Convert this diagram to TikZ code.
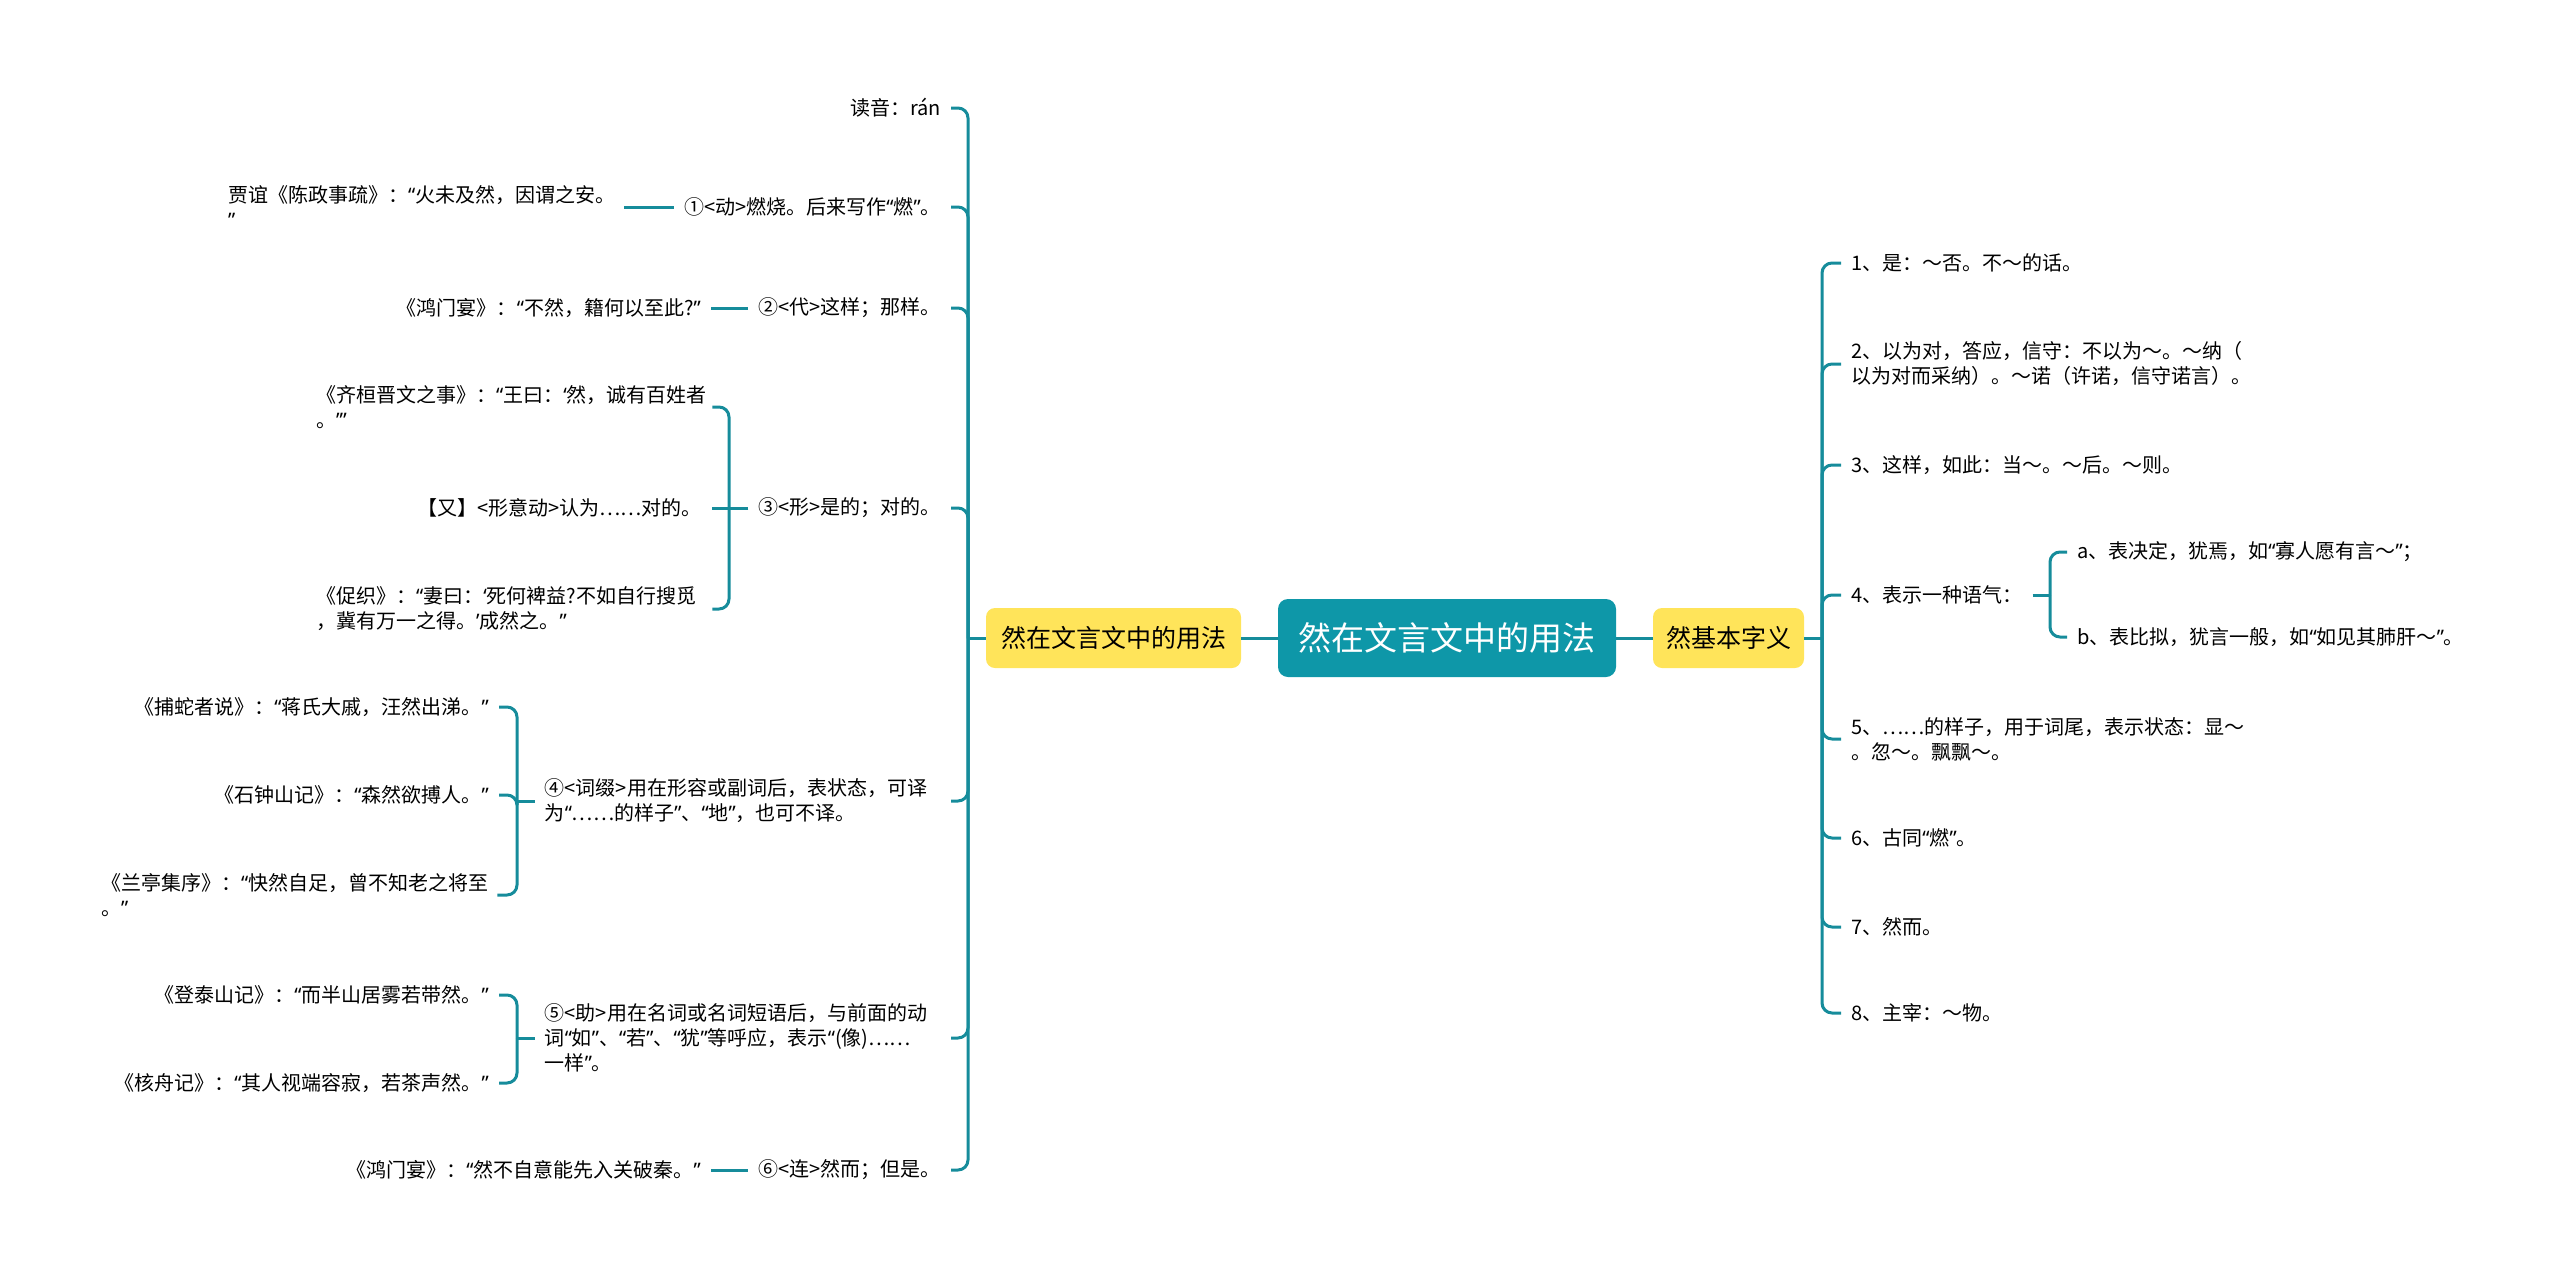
\documentclass[tikz,border=0pt]{standalone}
\usepackage{fontspec}
\newfontfamily\cjk{Noto Sans CJK SC}
\newfontfamily\qfont{Noto Sans}
\newcommand\oq{{\qfont “}}
\newcommand\cq{{\qfont ”}}
\newcommand\osq{{\qfont ‘}}
\newcommand\csq{{\qfont ’}}
\definecolor{tealbox}{RGB}{14,151,168}
\definecolor{tealline}{RGB}{22,140,155}
\definecolor{yel}{RGB}{255,228,90}
\begin{document}
\begin{tikzpicture}[x=1pt,y=-1pt,
  conn/.style={draw=tealline, line width=3pt},
  rc/.style={rounded corners=10pt},
  txt/.style={font=\cjk\fontsize{20}{25}\selectfont, inner xsep=10pt, inner ysep=2pt, text=black},
  wrap/.style={txt, text width=#1, align=left},
  leafw/.style={txt, inner xsep=0pt, text width=396pt, align=left, anchor=west},
  rootbox/.style={fill=tealbox, rounded corners=10pt, text=white, font=\cjk\fontsize{33}{40}\selectfont, minimum width=338pt, minimum height=78pt, inner sep=0pt},
  yelbox/.style={fill=yel, rounded corners=9pt, text=black, font=\cjk\fontsize{25}{30}\selectfont, minimum height=60pt, inner sep=0pt}
]
\useasboundingbox (0,0) rectangle (2560,1277);

% central and main branches
\node[rootbox] (root) at (1447,638) {然在文言文中的用法};
\node[yelbox, minimum width=255pt] (lb) at (1113.5,638) {然在文言文中的用法};
\node[yelbox, minimum width=151pt] (rb) at (1728.5,638) {然基本字义};
\draw[conn] (lb.east) -- (root.west);
\draw[conn] (root.east) -- (rb.west);

% ---------- left side ----------
\node[txt, anchor=east] (L0) at (951,108) {读音：rán};
\node[txt, anchor=east] (L1) at (951,207) {①<动>燃烧。后来写作\oq 燃\cq 。};
\node[txt, anchor=east] (L2) at (951,308) {②<代>这样；那样。};
\node[txt, anchor=east] (L3) at (951,508) {③<形>是的；对的。};
\node[wrap=396pt, anchor=east] (L4) at (951,801) {④<词缀>用在形容或副词后，表状态，可译\\为\oq ……的样子\cq 、\oq 地\cq ，也可不译。};
\node[wrap=396pt, anchor=east] (L5) at (951,1038) {⑤<助>用在名词或名词短语后，与前面的动\\词\oq 如\cq 、\oq 若\cq 、\oq 犹\cq 等呼应，表示\oq (像)……\\一样\cq 。};
\node[txt, anchor=east] (L6) at (951,1170) {⑥<连>然而；但是。};

\coordinate (jL) at (968,638);
\draw[conn] (lb.west) -- (jL);
\foreach \n in {L0,L1,L2,L3,L4,L5,L6} {\draw[conn,rc] (jL) |- (\n.east);}

% leaves of 1
\node[leafw] (c1) at (228,207) {贾谊《陈政事疏》：\oq 火未及然，因谓之安。\\\cq};
\draw[conn] (c1.east) -- (L1.west);
% leaves of 2
\node[txt, anchor=east] (c2) at (711,308) {《鸿门宴》：\oq 不然，籍何以至此?\cq};
\draw[conn] (c2.east) -- (L2.west);
% leaves of 3
\node[leafw] (c31) at (316,407) {《齐桓晋文之事》：\oq 王曰：\osq 然，诚有百姓者\\。\csq\cq};
\node[txt, anchor=east] (c32) at (712,508) {【又】<形意动>认为……对的。};
\node[leafw] (c33) at (316,609) {《促织》：\oq 妻曰：\osq 死何裨益?不如自行搜觅\\，冀有万一之得。\csq 成然之。\cq};
\coordinate (j3) at (729,508);
\draw[conn] (L3.west) -- (j3);
\draw[conn,rc] (j3) |- (c31.east);
\draw[conn] (j3) -- (c32.east);
\draw[conn,rc] (j3) |- (c33.east);
% leaves of 4
\node[txt, anchor=east] (c41) at (499,707) {《捕蛇者说》：\oq 蒋氏大戚，汪然出涕。\cq};
\node[txt, anchor=east] (c42) at (499,795) {《石钟山记》：\oq 森然欲搏人。\cq};
\node[leafw] (c43) at (101,895) {《兰亭集序》：\oq 快然自足，曾不知老之将至\\。\cq};
\coordinate (j4) at (517,801);
\draw[conn] (L4.west) -- (j4);
\draw[conn,rc] (j4) |- (c41.east);
\draw[conn,rc] (j4) |- (c42.east);
\draw[conn,rc] (j4) |- (c43.east);
% leaves of 5
\node[txt, anchor=east] (c51) at (499,995) {《登泰山记》：\oq 而半山居雾若带然。\cq};
\node[txt, anchor=east] (c52) at (499,1083) {《核舟记》：\oq 其人视端容寂，若茶声然。\cq};
\coordinate (j5) at (517,1038);
\draw[conn] (L5.west) -- (j5);
\draw[conn,rc] (j5) |- (c51.east);
\draw[conn,rc] (j5) |- (c52.east);
% leaves of 6
\node[txt, anchor=east] (c6) at (711,1170) {《鸿门宴》：\oq 然不自意能先入关破秦。\cq};
\draw[conn] (c6.east) -- (L6.west);

% ---------- right side ----------
\node[txt, anchor=west] (R1) at (1841,263) {1、是：～否。不～的话。};
\node[txt, anchor=west, align=left] (R2) at (1841,364) {2、以为对，答应，信守：不以为～。～纳（\\以为对而采纳）。～诺（许诺，信守诺言）。};
\node[txt, anchor=west] (R3) at (1841,465) {3、这样，如此：当～。～后。～则。};
\node[txt, anchor=west] (R4) at (1841,595) {4、表示一种语气：};
\node[txt, anchor=west, align=left] (R5) at (1841,739) {5、……的样子，用于词尾，表示状态：显～\\。忽～。飘飘～。};
\node[txt, anchor=west] (R6) at (1841,838) {6、古同\oq 燃\cq 。};
\node[txt, anchor=west] (R7) at (1841,927) {7、然而。};
\node[txt, anchor=west] (R8) at (1841,1013) {8、主宰：～物。};

\coordinate (jR) at (1822,638);
\draw[conn] (rb.east) -- (jR);
\foreach \n in {R1,R2,R3,R4,R5,R6,R7,R8} {\draw[conn,rc] (jR) |- (\n.west);}

\node[txt, anchor=west] (Ra) at (2067,552) {a、表决定，犹焉，如\oq 寡人愿有言～\cq ；};
\node[txt, anchor=west] (Rb) at (2067,637) {b、表比拟，犹言一般，如\oq 如见其肺肝～\cq 。};
\coordinate (j4R) at (2050,595);
\draw[conn] (R4.east) -- (j4R);
\draw[conn,rc] (j4R) |- (Ra.west);
\draw[conn,rc] (j4R) |- (Rb.west);
\end{tikzpicture}
\end{document}
